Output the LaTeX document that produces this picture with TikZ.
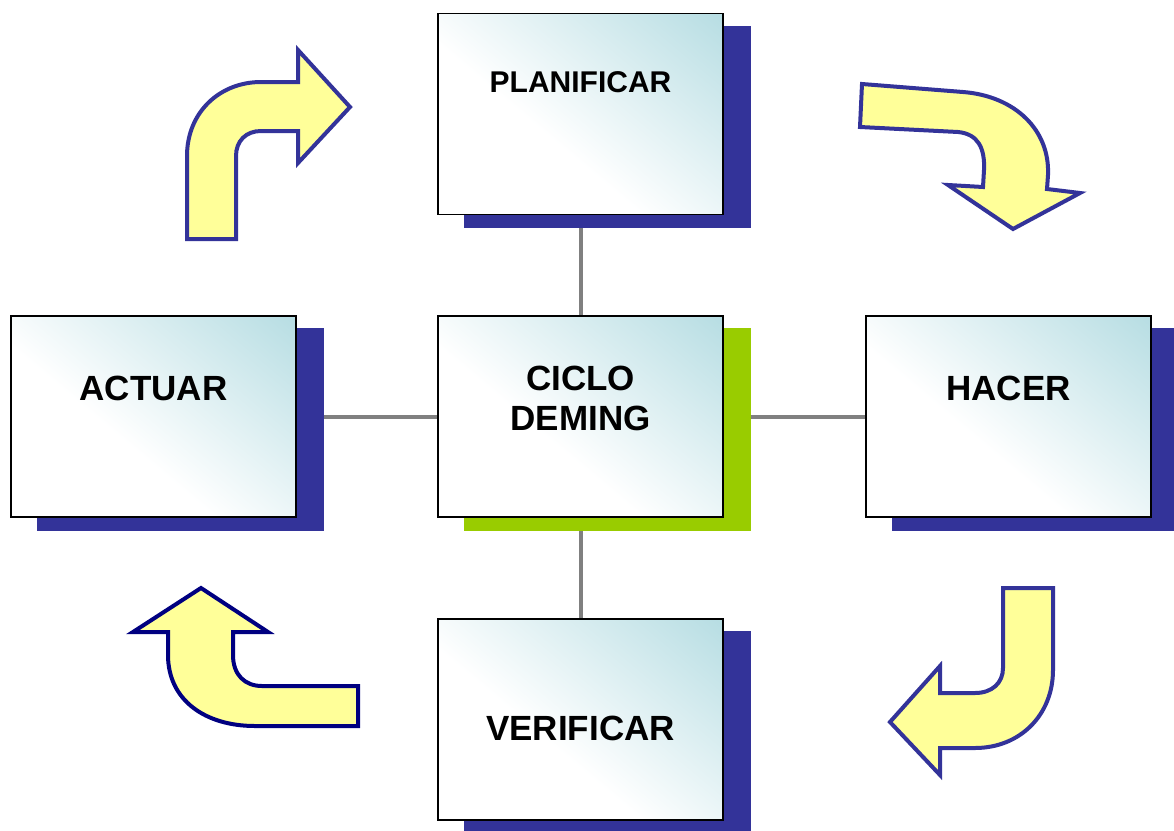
\documentclass[tikz,border=0pt]{standalone}
\usepackage{fontspec}
\setmainfont{Liberation Sans}
\usetikzlibrary{backgrounds}
\definecolor{shadowblue}{HTML}{333399}
\definecolor{deminggreen}{HTML}{99CC00}
\definecolor{boxteal}{RGB}{178,219,225}
\definecolor{arrowfill}{HTML}{FFFF99}
\definecolor{arrowline}{HTML}{333399}
\definecolor{navyline}{HTML}{000080}
\definecolor{linkgray}{HTML}{808080}
\pgfdeclareverticalshading{boxshade}{100bp}{color(0bp)=(white); color(42bp)=(white); color(88bp)=(boxteal); color(100bp)=(boxteal)}
\begin{document}
\begin{tikzpicture}[x=1pt,y=-1pt,
  box/.style={minimum width=285pt, minimum height=201pt, inner sep=0pt, draw=black, line width=1.5pt, shade, shading=boxshade, shading angle=-40},
  lbl/.style={font=\bfseries\fontsize{35}{40}\selectfont, inner sep=0pt, align=center},
  bigarrow/.style={fill=arrowfill, draw=arrowline, line width=4pt, line join=miter},
  link/.style={draw=linkgray, line width=4pt},
  shadowfill/.style={fill=#1}
]
\useasboundingbox (0,0) rectangle (1174,830);

% boxes
\node[box] (plan)   at (580.5,114) {};
\node[box] (ciclo)  at (580.5,416.5) {};
\node[box] (actuar) at (153.5,416.5) {};
\node[box] (hacer)  at (1008.5,416.5) {};
\node[box] (verif)  at (580.5,719.5) {};

% texts
\node[lbl, font=\bfseries\fontsize{30}{36}\selectfont] (tplan) at (580.5,82) {PLANIFICAR};
\node[lbl] (tciclo) at (580.5,398) {CICLO\\DEMING};
\node[lbl] (tactuar) at (153.5,388) {ACTUAR};
\node[lbl] (thacer) at (1008.5,388) {HACER};
\node[lbl] (tverif) at (580.5,728) {VERIFICAR};

\begin{scope}[on background layer]
  \draw[link] (plan.south) -- (ciclo.north);
  \draw[link] (ciclo.south) -- (verif.north);
  \draw[link] (actuar.east) -- (ciclo.west);
  \draw[link] (ciclo.east) -- (hacer.west);
  \foreach \n/\c in {plan/shadowblue, actuar/shadowblue, hacer/shadowblue, verif/shadowblue, ciclo/deminggreen}{
    \fill[shadowfill=\c] ([xshift=27pt,yshift=-13pt]\n.north west) rectangle ([xshift=27pt,yshift=-13pt]\n.south east);
  }
\end{scope}

% curved arrows
\draw[bigarrow] (187,239) -- (187,156) .. controls (187,112) and (220,82) .. (261,82) -- (298,82) -- (298,50) -- (350,107) -- (298,163) -- (298,131) -- (261,131) .. controls (246,131) and (236,141) .. (236,156) -- (236,239) -- cycle;

\draw[bigarrow] (862,84) -- (963,92) .. controls (1015,96) and (1050,130) .. (1048,175) -- (1047,189) -- (1080,193) -- (1013,229) -- (948,185) -- (983,187) -- (984,170) .. controls (985,148) and (978,134) .. (958,132) -- (860,127) -- cycle;

\draw[bigarrow] (1003,588) -- (1053,588) -- (1053,670) .. controls (1053,715) and (1020,748) .. (975,748) -- (940,748) -- (940,775) -- (890,722) -- (940,666) -- (940,693) -- (975,693) .. controls (992,693) and (1003,683) .. (1003,668) -- cycle;

\draw[bigarrow, draw=navyline] (201,588) -- (268,632) -- (233,632) -- (233,655) .. controls (233,675) and (245,686) .. (262,686) -- (358,686) -- (358,726) -- (255,726) .. controls (205,726) and (168,700) .. (168,655) -- (168,632) -- (133,632) -- cycle;
\end{tikzpicture}
\end{document}
